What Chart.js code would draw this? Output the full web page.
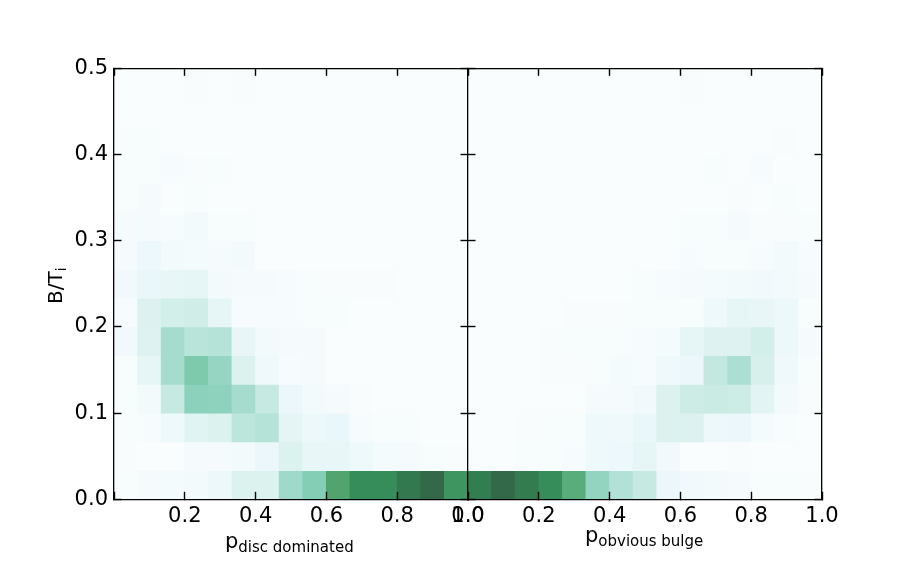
<!DOCTYPE html>
<html><head><meta charset="utf-8">
<style>html,body{margin:0;padding:0;background:#fff;overflow:hidden}
canvas{position:absolute;left:0;top:0}</style>
<script src="https://cdn.jsdelivr.net/npm/chart.js@4"></script>
</head><body>
<canvas id="left" width="913" height="571"></canvas>
<canvas id="right" width="913" height="571"></canvas>
<script>
// rows run from B/T = 0 upward; columns run from p = 0 to p = 1
const discDominated = [
 [.01,.03,.04,.05,.10,.22,.22,.42,.50,.74,.86,.86,.94,1.0,.82],
 [.005,0,0,.03,.03,.05,.12,.22,.14,.14,.09,.04,.03,.01,.005],
 [.005,.025,.09,.18,.22,.33,.35,.16,.10,.13,.02,.015,.015,0,0],
 [.015,.05,.30,.48,.47,.40,.30,.12,.05,.03,.005,0,0,0,0],
 [.015,.15,.40,.53,.45,.22,.08,.02,.03,0,0,0,0,0,0],
 [.07,.20,.40,.34,.35,.14,.05,.03,.03,0,0,0,0,0,0],
 [.02,.21,.26,.27,.15,.02,.02,.02,.01,.01,0,0,0,0,0],
 [.07,.13,.14,.15,.05,.035,.03,.02,.01,.005,.005,.005,0,0,0],
 [.035,.11,.05,.04,.03,.05,0,0,0,0,0,0,0,0,0],
 [.04,.03,.02,.05,.01,.01,0,0,0,0,0,0,0,0,0],
 [.01,.03,0,.015,0,0,0,0,0,0,0,0,0,0,0],
 [.01,.01,.025,.003,.015,0,0,0,0,0,0,0,0,0,0],
 [.005,.01,0,0,0,0,0,0,0,0,0,0,0,0,0],
 [0,0,0,0,0,0,0,0,0,0,0,0,0,0,0],
 [0,0,0,.005,0,.005,0,0,0,0,0,0,0,0,0]
];
const obviousBulge = [
 [.92,1.0,.93,.86,.70,.46,.36,.30,.12,.07,.06,.03,.015,.015,.005],
 [0,0,.015,.015,.025,.09,.11,.15,.07,0,0,.005,0,0,0],
 [0,0,.005,.01,.01,.09,.08,.13,.22,.21,.10,.12,.04,.01,0],
 [0,0,0,0,0,.03,.03,.07,.22,.28,.29,.28,.17,.05,.005],
 [0,0,0,.003,.005,.01,.04,.02,.08,.12,.31,.38,.24,.08,.01],
 [0,0,0,.005,.015,.015,.01,.02,.04,.15,.20,.20,.26,.10,.03],
 [0,0,0,0,.005,.005,.005,.015,.015,.01,.09,.15,.14,.10,.015],
 [0,0,0,0,0,0,0,.01,.02,.03,.045,.055,.07,.06,.03],
 [0,0,0,0,0,0,0,0,0,.02,.015,.015,.025,.05,.02],
 [0,0,0,0,0,0,0,0,0,.012,.012,.03,.003,.005,.015],
 [0,0,0,0,0,0,0,0,0,0,0,.008,0,.018,0],
 [0,0,0,0,0,0,0,0,0,0,.015,0,.02,0,0],
 [0,0,0,0,0,0,0,0,0,0,0,0,0,.003,0],
 [0,0,0,0,0,0,0,0,0,0,0,0,0,0,0],
 [0,0,0,0,0,0,0,0,0,.005,0,0,0,0,0]
];
const xTickStep = 0.2, yTickStep = 0.1;
const xRange = [0, 1], yRange = [0, 0.5];
const yTitle = ['B/T', 'i'];
const leftTitle = ['p', 'disc dominated'];
const rightTitle = ['p', 'obvious bulge'];
const stops = [[247,252,253],[229,245,249],[204,236,230],[153,216,201],[102,194,164],[65,174,118],[35,139,69],[0,109,44],[0,68,27]];

const FONT = '"DejaVu Sans"';
const TICK_SIZE = 21, TICK_LEN = 7.5;

function colour(v){
  const t = Math.min(1, Math.max(0, v)) * (stops.length - 1);
  const i = Math.min(stops.length - 2, Math.floor(t)), f = t - i;
  const c = stops[i].map((a, k) => (a + (stops[i+1][k] - a) * f) * 0.8 + 255 * 0.2);
  return `rgb(${c.map(Math.round).join(',')})`;
}
function cells(grid){
  const out = [], nr = grid.length;
  grid.forEach((row, r) => row.forEach((v, c) => {
    const w = (xRange[1] - xRange[0]) / row.length, h = (yRange[1] - yRange[0]) / nr;
    out.push({x: xRange[0] + (c + .5) * w, y: [yRange[0] + r * h, yRange[0] + (r + 1) * h], v});
  }));
  return out;
}
function edge(position, showLabels, cb){
  return {
    type: 'linear', position,
    min: (position === 'left' || position === 'right') ? yRange[0] : xRange[0],
    max: (position === 'left' || position === 'right') ? yRange[1] : xRange[1],
    offset: false,
    grid: {display: true, drawOnChartArea: false, drawTicks: true, tickLength: -TICK_LEN, tickWidth: 1.4, tickColor: '#000', offset: false, z: 1},
    border: {display: true, color: '#000', width: 1.3, z: 1},
    ticks: {
      display: showLabels, autoSkip: false, maxRotation: 0, minRotation: 0,
      stepSize: (position === 'left' || position === 'right') ? yTickStep : xTickStep,
      padding: (position === 'left' ? 13.5 : 12.5),
      color: '#000', font: {family: FONT, size: TICK_SIZE},
      callback: cb || (v => v.toFixed(1))
    }
  };
}
function fixSize(o, prop, size){ o.afterFit = s => { s[prop] = size; }; return o; }

const labelsPlugin = {
  id: 'mixedLabels',
  afterDraw(chart, _a, opts){
    const {ctx} = chart;
    ctx.save();
    ctx.fillStyle = '#000';
    ctx.textBaseline = 'alphabetic';
    ctx.textAlign = 'left';
    (opts.items || []).forEach(it => {
      ctx.save();
      ctx.translate(it.x, it.y);
      if (it.rotate) ctx.rotate(it.rotate);
      ctx.font = `${it.big}px ${FONT}`;
      ctx.fillText(it.text[0], 0, 0);
      const w = ctx.measureText(it.text[0]).width;
      ctx.font = `${it.small}px ${FONT}`;
      ctx.fillText(it.text[1], w + (it.gap||0), it.drop);
      ctx.restore();
    });
    ctx.restore();
  }
};

function build(id, grid, pad, xCb, showY, items){
  const yScale = fixSize(edge('left', showY), 'width', pad.left);
  const y2 = fixSize(edge('right', false), 'width', 0);
  const xScale = fixSize(edge('bottom', true, xCb), 'height', pad.bottom);
  const x2 = fixSize(edge('top', false), 'height', 0);
  return new Chart(document.getElementById(id), {
    type: 'bar',
    data: {datasets: [{
      data: cells(grid),
      backgroundColor: c => colour(c.raw ? c.raw.v : 0),
      borderWidth: 0, inflateAmount: 0.4,
      barPercentage: 1, categoryPercentage: 1
    }]},
    options: {
      responsive: false, animation: false,
      layout: {padding: {left: 0, top: pad.top, right: pad.right, bottom: 0}},
      plugins: {legend: {display: false}, tooltip: {enabled: false}, mixedLabels: {items}},
      scales: {x: xScale, x2, y: yScale, y2}
    },
    plugins: [labelsPlugin]
  });
}
build('left', discDominated, {left: 114, top: 68.3, right: 445, bottom: 71.7},
  v => v === 0 ? '' : v.toFixed(1), true, [
    {text: leftTitle, x: 225, y: 548, big: 21, small: 15, drop: 4},
    {text: yTitle, x: 62, y: 304, rotate: -Math.PI/2, big: 20, small: 14, drop: 4}
  ]);
build('right', obviousBulge, {left: 468, top: 68.3, right: 91, bottom: 71.7},
  v => v.toFixed(1), false, [
    {text: rightTitle, x: 585, y: 542, big: 21, small: 15, drop: 4}
  ]);
</script>
</body></html>
